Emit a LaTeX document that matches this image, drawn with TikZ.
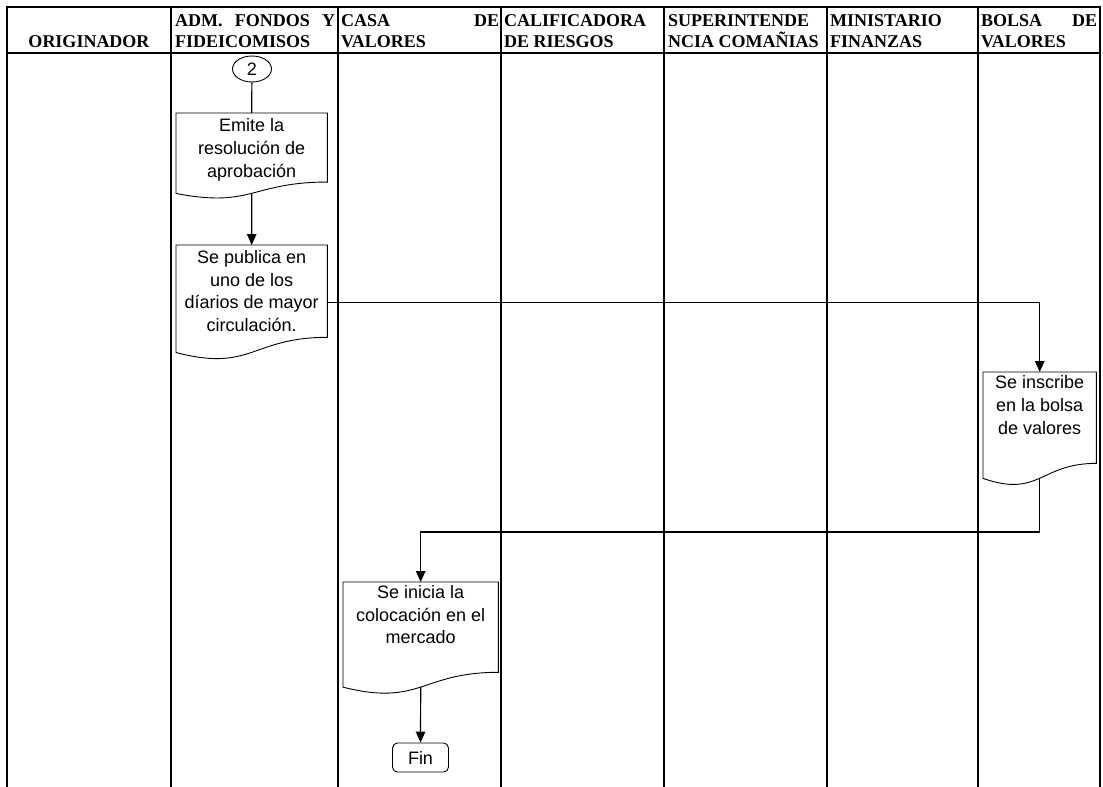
\documentclass[tikz,border=0pt]{standalone}
\usepackage{fontspec}
\setmainfont{Liberation Serif}
\newfontfamily\arialfont{Liberation Sans}
\usetikzlibrary{arrows.meta,calc,shapes.geometric}

\tikzset{
  lane/.style={line width=2.2pt},
  rule/.style={line width=2pt},
  head/.style={font=\bfseries\fontsize{18}{21.7}\selectfont, inner sep=0pt, anchor=base west},
  docframe/.style={draw=none, inner sep=0pt, anchor=north west},
  docline/.style={line width=0.9pt, fill=white},
  bodytext/.style={font=\arialfont\fontsize{18}{22.8}\selectfont, align=center, inner sep=0pt, anchor=north},
  flow/.style={line width=1.2pt},
  flowarrow/.style={flow, -{Triangle[length=11pt,width=9.5pt]}},
  connector/.style={draw, ellipse, line width=0.9pt, inner sep=0pt,
    minimum width=39pt, minimum height=26pt, font=\arialfont\fontsize{18}{22}\selectfont},
  terminal/.style={draw, rounded corners=5pt, line width=0.9pt, inner sep=0pt,
    minimum width=56pt, minimum height=29pt, font=\arialfont\fontsize{18}{22}\selectfont}
}

% outline of a flowchart "document" symbol around a frame node, plus its bottom point
\newcommand\docoutline[1]{%
  \draw[docline] (#1.north west) -- (#1.north east)
    -- ($(#1.north east)!0.802!(#1.south east)$)
    .. controls ($(#1.north)!0.802!(#1.south)$) and ($(#1.north)!1.107!(#1.south)$)
    .. ($(#1.north west)!0.934!(#1.south west)$) -- cycle;
  \coordinate (#1-b) at ($(#1.north)!0.933!(#1.south)$);}

\begin{document}
\begin{tikzpicture}[x=1pt,y=-1pt]
\useasboundingbox (0,0) rectangle (1103,787);

% swimlane grid
\foreach \lx in {7,171,338,501,664,827,978,1100}
  \draw[lane] (\lx,6) -- (\lx,787);
\draw[rule] (6,7) -- (1101,7);
\draw[rule] (6,53) -- (1101,53);

% lane headings
\node[head, anchor=base] (h1) at (89,47.7) {ORIGINADOR};
\node[head] (h2a) at (175,26) {\makebox[160pt][l]{ADM.\hfill FONDOS\hfill Y}};
\node[head] (h2b) at (175,47.7) {FIDEICOMISOS};
\node[head] (h3a) at (341,26) {\makebox[158pt][l]{CASA\hfill DE}};
\node[head] (h3b) at (341,47.7) {VALORES};
\node[head] (h4a) at (504,26) {CALIFICADORA};
\node[head] (h4b) at (504,47.7) {DE RIESGOS};
\node[head] (h5a) at (668,26) {SUPERINTENDE};
\node[head] (h5b) at (668,47.7) {NCIA COMAÑIAS};
\node[head] (h6a) at (830,26) {MINISTARIO};
\node[head] (h6b) at (830,47.7) {FINANZAS};
\node[head] (h7a) at (981,26) {\makebox[116pt][l]{BOLSA\hfill DE}};
\node[head] (h7b) at (981,47.7) {VALORES};

% off-page connector
\node[connector] (c2) at (252,69) {2};

% process documents
\node[docframe, minimum width=151pt, minimum height=85.7pt] (d1) at (176,113) {};
\docoutline{d1}
\node[bodytext] (t1) at ([yshift=-5.5pt]d1.north) {Emite la\\resolución de\\aprobación};

\node[docframe, minimum width=151pt, minimum height=114.7pt] (d2) at (176,245) {};
\docoutline{d2}
\node[bodytext] (t2) at ([yshift=-5pt]d2.north) {Se publica en\\uno de los\\díarios de mayor\\circulación.};

\node[docframe, minimum width=113pt, minimum height=113.5pt] (d3) at (983,372) {};
\docoutline{d3}
\node[bodytext] (t3) at ([yshift=-3.3pt]d3.north) {Se inscribe\\en la bolsa\\de valores};

\node[docframe, minimum width=155pt, minimum height=112.2pt] (d4) at (343,582) {};
\docoutline{d4}
\node[bodytext] (t4) at ([yshift=-3pt]d4.north) {Se inicia la\\colocación en el\\mercado};

% end terminal
\node[terminal] (fin) at (420.5,757.5) {Fin};

% connectors
\coordinate (turn) at (700,532);
\draw[flow] (c2) -- (d1.north);
\draw[flowarrow] (d1-b) -- (d2.north);
\draw[flowarrow] (d2.east) -| (d3.north);
\draw[flowarrow] (d3-b) -- (d3-b |- turn) -| (d4.north);
\draw[flowarrow] (d4-b) -- (fin.north);
\end{tikzpicture}
\end{document}
